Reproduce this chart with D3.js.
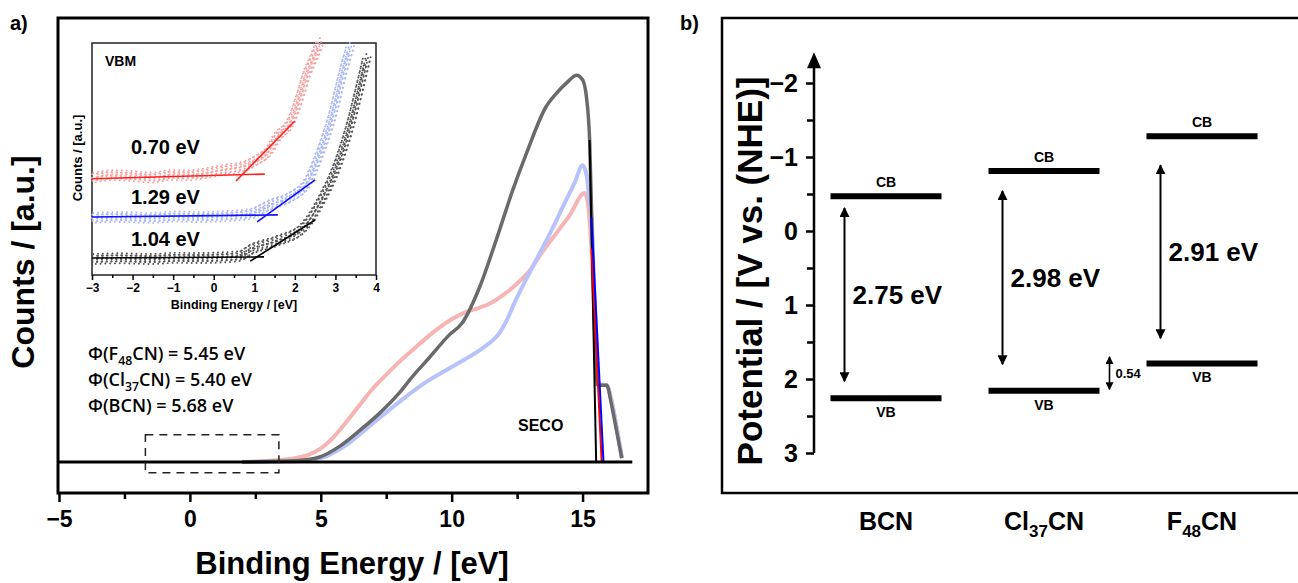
<!DOCTYPE html>
<html>
<head>
<meta charset="utf-8">
<script src="https://cdn.jsdelivr.net/npm/d3@7"></script>
<style>
  body { margin: 0; background: #fff; }
  text { font-family: "Liberation Sans", Arial, sans-serif; font-weight: bold; fill: #000; }
</style>
</head>
<body>
<script>
// ---------- panel a: SECO curves  [binding energy (eV), counts (a.u.)] ----------
var bcnSeco = [[2,0],[4,0.003],[4.96,0.013],[5.73,0.041],[6.5,0.082],[7.25,0.126],[8,0.178],
  [8.5,0.22],[9.16,0.27],[9.9,0.327],[10.4,0.358],[11.07,0.451],[11.7,0.572],[12.33,0.70],
  [12.86,0.796],[13.6,0.915],[14.0,0.95],[14.39,0.977],[14.77,0.997],[15.0,0.985],[15.15,0.94],
  [15.27,0.83],[15.4,0.5],[15.55,0.2],[15.65,0.198],[15.92,0.198],[16.1,0.15],[16.3,0.08],[16.5,0.01]];
var clSeco = [[2,0],[4,0.002],[5,0.01],[6,0.045],[7,0.1],[8,0.155],[9,0.205],[10,0.245],
  [11,0.285],[11.5,0.31],[11.8,0.33],[12.1,0.365],[12.4,0.41],[12.8,0.465],[13.3,0.53],
  [13.8,0.595],[14.3,0.665],[14.7,0.72],[15.0,0.765],[15.15,0.74],[15.25,0.68],[15.34,0.63],
  [15.5,0.35],[15.62,0.2],[15.92,0.198],[16.1,0.16],[16.3,0.09],[16.5,0.01]];
var fSeco = [[2,0],[3,0.003],[4,0.01],[4.5,0.018],[5,0.035],[5.5,0.065],[6,0.105],[6.5,0.148],
  [7,0.19],[7.5,0.225],[8,0.258],[8.5,0.288],[9,0.318],[9.5,0.345],[10,0.368],[10.5,0.385],
  [11,0.396],[11.5,0.41],[12,0.432],[12.5,0.46],[13,0.495],[13.5,0.545],[14,0.59],[14.5,0.635],
  [15.08,0.693],[15.2,0.67],[15.34,0.55],[15.5,0.3],[15.62,0.2],[15.92,0.198],[16.1,0.16],
  [16.3,0.09],[16.5,0.01]];
// linear cut-off fits
var bcnSecoFit = [[15.27,0.83],[15.52,0]];
var clSecoFit = [[15.34,0.63],[15.80,0]];
var fSecoFit = [[15.34,0.55],[15.73,0]];
var baselineE = [-5, 16.9];
var zoomBoxE = [-1.7, 3.4];
var zoomBoxCounts = [-0.028, 0.07];
var workFunctions = [
  [["\u03A6(F",false],["48",true],["CN) = 5.45 eV",false]],
  [["\u03A6(Cl",false],["37",true],["CN) = 5.40 eV",false]],
  [["\u03A6(BCN) = 5.68 eV",false]]
];
var xTicksA = [-5, 0, 5, 10, 15];
var xMinorA = [-2.5, 2.5, 7.5, 12.5];

// ---------- inset: VBM region [binding energy (eV), counts (a.u.)] ----------
var fVbm = [[-3,4.18],[-2.5,4.3],[-2.06,4.27],[-1.5,4.2],[-1.08,4.31],[-0.6,4.3],[-0.34,4.35],
  [0.23,4.53],[0.77,4.7],[1.06,4.96],[1.38,5.39],[1.56,5.95],[1.88,6.55],[2.12,7.67],
  [2.3,8.71],[2.44,9.27],[2.62,10.0]];
var clVbm = [[-3,2.46],[-2.3,2.5],[-1.57,2.46],[-0.9,2.52],[-0.34,2.5],[0.4,2.55],[0.89,2.63],
  [1.38,3.02],[1.88,3.36],[2.3,3.97],[2.62,5.26],[2.94,6.98],[3.18,8.71],[3.36,9.83]];
var bcnVbm = [[-3,0.69],[-2.3,0.72],[-1.57,0.69],[-0.9,0.74],[-0.34,0.73],[0.2,0.76],[0.65,0.82],
  [0.89,1.08],[1.56,1.47],[2.2,2.03],[2.69,3.36],[3.03,4.66],[3.35,6.38],[3.6,8.1],[3.77,9.35]];
var fVbmFits = [[[-3,4.15],[1.26,4.35]], [[0.55,4.05],[2.0,6.64]]];
var clVbmFits = [[[-3,2.5],[1.58,2.59]], [[1.07,2.29],[2.5,4.1]]];
var bcnVbmFits = [[[-3,0.73],[1.24,0.78]], [[0.9,0.6],[2.5,2.37]]];
var vbmLabels = ["0.70 eV", "1.29 eV", "1.04 eV"];
var xTicksInset = [-3, -2, -1, 0, 1, 2, 3, 4];
var xMinorInset = [-2.5, -1.5, -0.5, 0.5, 1.5, 2.5, 3.5];

// ---------- panel b: band positions (V vs. NHE) ----------
var materials = [["BCN"], ["Cl","37","CN"], ["F","48","CN"]];
var cbLevels = [-0.47, -0.81, -1.28];
var vbLevels = [2.26, 2.16, 1.79];
var gapLabels = ["2.75 eV", "2.98 eV", "2.91 eV"];
var gapArrows = [[-0.31, 2.03], [-0.54, 1.80], [-0.89, 1.45]];
var vbShiftArrow = [1.70, 2.14];
var vbShiftLabel = "0.54";
var yTicksB = [-2, -1, 0, 1, 2, 3];
var yMinorB = [-1.5, -0.5, 0.5, 1.5, 2.5];

// ================= drawing =================
var svg = d3.select("body").append("svg")
  .attr("width", 1298).attr("height", 583);
var intFmt = d3.format("d");

var defs = svg.append("defs");
defs.append("marker").attr("id", "head")
  .attr("viewBox", "0 0 10 10").attr("refX", 9).attr("refY", 5)
  .attr("markerWidth", 5).attr("markerHeight", 5).attr("orient", "auto-start-reverse")
  .attr("markerUnits", "strokeWidth")
  .append("path").attr("d", "M0,0 L10,5 L0,10 Z").attr("fill", "#000");

// helper to write text with subscripts
function richText(sel, parts, size) {
  parts.forEach(function(p) {
    var t = sel.append("tspan").text(p[0]);
    if (p[1]) t.attr("font-size", size * 0.68).attr("dy", size * 0.28);
    else if (sel.selectAll("tspan").size() > 1) t.attr("dy", -size * 0.28);
  });
}

// ---- panel a ----
var ax = d3.scaleLinear().domain([-5, 17.5]).range([59, 648]);
var ay = d3.scaleLinear().domain([0, 1]).range([462, 74]);
var ga = svg.append("g");

ga.append("text").attr("x", 10).attr("y", 30).attr("font-size", 20).text("a)");

ga.append("rect").attr("x", 58).attr("y", 18).attr("width", 590).attr("height", 475)
  .attr("fill", "none").attr("stroke", "#000").attr("stroke-width", 3);

var lineA = d3.line().x(d => ax(d[0])).y(d => ay(d[1])).curve(d3.curveMonotoneX);

ga.append("path").datum(fSeco).attr("d", lineA).attr("fill", "none")
  .attr("stroke", "#f7b4b4").attr("stroke-width", 4);
ga.append("path").datum(clSeco).attr("d", lineA).attr("fill", "none")
  .attr("stroke", "#b7c2fa").attr("stroke-width", 4);
ga.append("path").datum(bcnSeco).attr("d", lineA).attr("fill", "none")
  .attr("stroke", "#6a6a6a").attr("stroke-width", 3.5);

var fitLine = d3.line().x(d => ax(d[0])).y(d => ay(d[1]));
[[bcnSecoFit, "#000"], [fSecoFit, "#ff0000"], [clSecoFit, "#0000ff"]].forEach(function(f) {
  ga.append("path").datum(f[0]).attr("d", fitLine).attr("fill", "none")
    .attr("stroke", f[1]).attr("stroke-width", 2);
});

// baseline
ga.append("line").attr("x1", ax(baselineE[0])).attr("x2", ax(baselineE[1]))
  .attr("y1", ay(0)).attr("y2", ay(0)).attr("stroke", "#000").attr("stroke-width", 3);

// dashed zoom box
ga.append("rect").attr("x", ax(zoomBoxE[0])).attr("y", ay(zoomBoxCounts[1]))
  .attr("width", ax(zoomBoxE[1]) - ax(zoomBoxE[0]))
  .attr("height", ay(zoomBoxCounts[0]) - ay(zoomBoxCounts[1]))
  .attr("fill", "none").attr("stroke", "#222").attr("stroke-width", 1.5)
  .attr("stroke-dasharray", "8,6");

// x axis
var axisA = ga.append("g").attr("transform", "translate(0,493)")
  .call(d3.axisBottom(ax).tickValues(xTicksA).tickSize(9).tickPadding(9).tickFormat(intFmt));
axisA.select(".domain").remove();
axisA.selectAll("line").attr("stroke-width", 2.5);
axisA.selectAll("text").attr("font-size", 23).attr("font-family", null);
var minorA = ga.append("g").attr("transform", "translate(0,493)")
  .call(d3.axisBottom(ax).tickValues(xMinorA).tickSize(6).tickFormat(""));
minorA.select(".domain").remove();
minorA.selectAll("line").attr("stroke-width", 2.5);

ga.append("text").attr("x", 352).attr("y", 574).attr("text-anchor", "middle")
  .attr("font-size", 31).text("Binding Energy / [eV]");
ga.append("text").attr("transform", "translate(34,262) rotate(-90)").attr("text-anchor", "middle")
  .attr("font-size", 32).text("Counts / [a.u.]");

ga.append("text").attr("x", 518).attr("y", 431).attr("font-size", 16).text("SECO");

workFunctions.forEach(function(parts, i) {
  var t = ga.append("text").attr("x", 88).attr("y", 360 + i * 26)
    .attr("font-size", 18).style("font-family", "'Open Sans', sans-serif").style("font-weight", 600);
  richText(t, parts, 18);
});

// ---- inset ----
var ix = d3.scaleLinear().domain([-3, 4]).range([92, 376]);
var iy = d3.scaleLinear().domain([0, 10]).range([275, 43]);
var gi = svg.append("g");
gi.append("rect").attr("x", 92).attr("y", 43).attr("width", 284).attr("height", 232)
  .attr("fill", "#fff").attr("stroke", "#222").attr("stroke-width", 1.5);

var lineI = d3.line().x(d => ix(d[0])).y(d => iy(d[1])).curve(d3.curveMonotoneX);
// scattered-point look: several dotted copies of each trace
var spread = [[0,0,0],[-3,-3,1.5],[3,3,3],[2,-3,0.8],[-2,3,2.3],[0,-5,3.6],[0,5,1.1],[4,-1,2.8],[-4,1,0.4]];
[[fVbm, "#f4a3a3"], [clVbm, "#a9b6f7"], [bcnVbm, "#555"]].forEach(function(s) {
  spread.forEach(function(o) {
    gi.append("path").datum(s[0]).attr("d", lineI).attr("fill", "none")
      .attr("transform", "translate(" + o[0] + "," + o[1] + ")")
      .attr("stroke", s[1]).attr("stroke-width", 1.9).attr("stroke-linecap", "round")
      .attr("stroke-dasharray", "0.1,4.7").attr("stroke-dashoffset", o[2]);
  });
});
var fitI = d3.line().x(d => ix(d[0])).y(d => iy(d[1]));
[[fVbmFits, "#ff2020"], [clVbmFits, "#1010ff"], [bcnVbmFits, "#000"]].forEach(function(f) {
  f[0].forEach(function(seg) {
    gi.append("path").datum(seg).attr("d", fitI).attr("fill", "none")
      .attr("stroke", f[1]).attr("stroke-width", 1.6);
  });
});
var labelY = [154, 204, 246];
vbmLabels.forEach(function(l, i) {
  gi.append("text").attr("x", 131).attr("y", labelY[i]).attr("font-size", 20).text(l);
});
gi.append("text").attr("x", 105).attr("y", 66).attr("font-size", 14).text("VBM");

var axisI = gi.append("g").attr("transform", "translate(0,275)")
  .call(d3.axisBottom(ix).tickValues(xTicksInset).tickSize(5).tickPadding(3).tickFormat(intFmt));
axisI.select(".domain").remove();
axisI.selectAll("line").attr("stroke-width", 1.5);
axisI.selectAll("text").attr("font-size", 12).attr("font-family", null);
var minorI = gi.append("g").attr("transform", "translate(0,275)")
  .call(d3.axisBottom(ix).tickValues(xMinorInset).tickSize(3).tickFormat(""));
minorI.select(".domain").remove();
minorI.selectAll("line").attr("stroke-width", 1.5);
gi.append("text").attr("x", 234).attr("y", 309).attr("text-anchor", "middle")
  .attr("font-size", 12.5).text("Binding Energy / [eV]");
gi.append("text").attr("transform", "translate(82,158) rotate(-90)").attr("text-anchor", "middle")
  .attr("font-size", 13).text("Counts / [a.u.]");

// ---- panel b ----
var by = d3.scaleLinear().domain([-2, 3]).range([83, 453]);
var bx = d3.scalePoint().domain(d3.range(materials.length)).range([886, 1202]);
var barW = 111;
var gb = svg.append("g");

gb.append("text").attr("x", 680).attr("y", 30).attr("font-size", 20).text("b)");
gb.append("rect").attr("x", 722).attr("y", 18).attr("width", 620).attr("height", 475)
  .attr("fill", "none").attr("stroke", "#000").attr("stroke-width", 2.5);

// y axis with arrow
gb.append("line").attr("x1", 814).attr("x2", 814).attr("y1", by(3)).attr("y2", by(-2.36))
  .attr("stroke", "#000").attr("stroke-width", 2.5);
gb.append("path").attr("d", "M814," + (by(-2.36) - 4) + " l-7,16 l14,0 Z").attr("fill", "#000");
var axisB = gb.append("g").attr("transform", "translate(814,0)")
  .call(d3.axisLeft(by).tickValues(yTicksB).tickSize(8).tickPadding(8).tickFormat(intFmt));
axisB.select(".domain").remove();
axisB.selectAll("line").attr("stroke-width", 2.5);
axisB.selectAll("text").attr("font-size", 25).attr("font-family", null);
var minorB = gb.append("g").attr("transform", "translate(814,0)")
  .call(d3.axisLeft(by).tickValues(yMinorB).tickSize(7).tickFormat(""));
minorB.select(".domain").remove();
minorB.selectAll("line").attr("stroke-width", 2.5);

gb.append("text").attr("transform", "translate(762,271) rotate(-90)").attr("text-anchor", "middle")
  .attr("font-size", 35).text("Potential / [V vs. (NHE)]");

materials.forEach(function(m, i) {
  var cx = bx(i);
  // CB and VB levels
  [cbLevels[i], vbLevels[i]].forEach(function(v) {
    gb.append("line").attr("x1", cx - barW / 2).attr("x2", cx + barW / 2)
      .attr("y1", by(v)).attr("y2", by(v)).attr("stroke", "#000").attr("stroke-width", 6);
  });
  gb.append("text").attr("x", cx).attr("y", by(cbLevels[i]) - 9).attr("text-anchor", "middle")
    .attr("font-size", 14).text("CB");
  gb.append("text").attr("x", cx).attr("y", by(vbLevels[i]) + 19).attr("text-anchor", "middle")
    .attr("font-size", 14).text("VB");
  // band gap arrow
  var axp = cx - barW / 2 + 14;
  gb.append("line").attr("x1", axp).attr("x2", axp)
    .attr("y1", by(gapArrows[i][0])).attr("y2", by(gapArrows[i][1]))
    .attr("stroke", "#000").attr("stroke-width", 2)
    .attr("marker-start", "url(#head)").attr("marker-end", "url(#head)");
  gb.append("text").attr("x", axp + 8).attr("y", by((gapArrows[i][0] + gapArrows[i][1]) / 2) + 9)
    .attr("font-size", 26).text(gapLabels[i]);
  // material label
  var t = gb.append("text").attr("x", cx).attr("y", 530).attr("text-anchor", "middle")
    .attr("font-size", 25);
  if (m.length === 1) t.text(m[0]);
  else richText(t, [[m[0], false], [m[1], true], [m[2], false]], 25);
});

// VB offset arrow between Cl37CN and F48CN
var sx = bx(1) + barW / 2 + 10;
gb.append("line").attr("x1", sx).attr("x2", sx)
  .attr("y1", by(vbShiftArrow[0])).attr("y2", by(vbShiftArrow[1]))
  .attr("stroke", "#000").attr("stroke-width", 1.6)
  .attr("marker-start", "url(#head)").attr("marker-end", "url(#head)");
gb.append("text").attr("x", sx + 6).attr("y", by((vbShiftArrow[0] + vbShiftArrow[1]) / 2) + 5)
  .attr("font-size", 13).text(vbShiftLabel);
</script>
</body>
</html>
